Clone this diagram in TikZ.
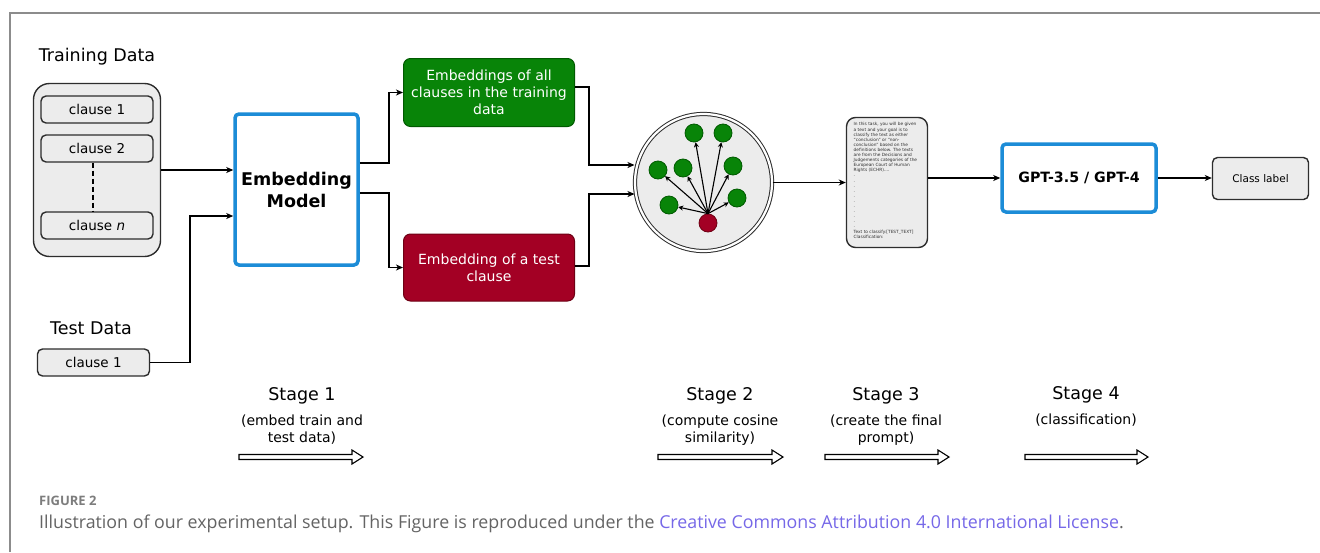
\documentclass[tikz,border=0pt]{standalone}
\usepackage{fontspec}
\setmainfont{DejaVu Sans}
\newfontfamily\capfont{Open Sans}
\usetikzlibrary{arrows.meta}
\definecolor{embblue}{RGB}{28,140,215}
\definecolor{boxgray}{RGB}{236,236,236}
\definecolor{edgedark}{RGB}{45,45,45}
\definecolor{embgreen}{RGB}{8,132,8}
\definecolor{embgreenedge}{RGB}{0,90,0}
\definecolor{embred}{RGB}{163,0,36}
\definecolor{embrededge}{RGB}{110,0,20}
\definecolor{framegray}{RGB}{140,140,140}
\definecolor{capgray}{RGB}{100,100,100}
\definecolor{figgray}{RGB}{125,125,125}
\definecolor{linkviolet}{RGB}{118,104,232}
\newcommand\fatarrow[3]{%
  \draw[fatarr] ({#1},{#3-2.5}) -- ({#2-11},{#3-2.5}) -- ({#2-11},{#3-7}) -- ({#2},{#3})
    -- ({#2-11},{#3+7}) -- ({#2-11},{#3+2.5}) -- ({#1},{#3+2.5}) -- cycle;}
\begin{document}
\begin{tikzpicture}[x=1pt,y=-1pt,
  graybox/.style={draw=edgedark, fill=boxgray, line width=1.4pt, rounded corners=5pt, inner sep=0pt},
  clausebox/.style={graybox, minimum width=112pt, minimum height=27pt, font=\fontsize{13.5}{16}\selectfont},
  bluebox/.style={draw=embblue, fill=white, line width=3.5pt, rounded corners=4pt, inner sep=0pt, align=center},
  conn/.style={draw=black, line width=1.5pt, -{Stealth[length=7pt,width=6pt,inset=2pt]}},
  dotarrow/.style={draw=black, line width=1.1pt, -{Stealth[length=5pt,width=5pt,inset=1.5pt]}},
  gdot/.style={circle, fill=embgreen, draw=embgreenedge, line width=0.8pt, minimum size=18pt, inner sep=0pt},
  rdot/.style={circle, fill=embred, draw=embrededge, line width=0.8pt, minimum size=18pt, inner sep=0pt},
  fatarr/.style={draw=black, fill=white, line width=1.1pt, line join=miter},
  titlefont/.style={font=\fontsize{17.5}{20}\selectfont},
  subfont/.style={font=\fontsize{14}{17}\selectfont, align=center}
]
\useasboundingbox (0,0) rectangle (1320,552);
\fill[white] (0,0) rectangle (1320,552);
\draw[framegray, line width=2pt] (10,552) -- (10,13) -- (1320,13);

% Training data
\node[titlefont] (trainlbl) at (97,57) {Training Data};
\node[graybox, rounded corners=16pt, minimum width=127pt, minimum height=173pt] (train) at (97,170) {};
\node[clausebox] (c1) at (97,109.5) {clause 1};
\node[clausebox] (c2) at (97,148.5) {clause 2};
\node[clausebox] (cn) at (97,225.5) {clause \textit{n}};
\draw[line width=1.4pt, dashed, dash pattern=on 5pt off 3pt] ([xshift=-4pt]c2.south) -- ([xshift=-4pt]cn.north);

% Test data
\node[titlefont] (testlbl) at (91,328) {Test Data};
\node[clausebox] (test) at (93.5,362.5) {clause 1};

% Embedding model
\node[bluebox, minimum width=123pt, minimum height=151pt, font=\fontsize{17.5}{22}\bfseries] (emb) at (296.5,189.5) {Embedding\\Model};
\draw[conn] (train.east) -- (emb.west |- train.east);
\draw[conn] (test.east) -- ++(40,0) |- (emb.west |- 0,216);

% Green / red boxes
\node[draw=embgreenedge, fill=embgreen, text=white, line width=1pt, rounded corners=7pt,
  minimum width=171pt, minimum height=68pt, align=center, font=\fontsize{14}{17}\selectfont] (green) at (489,92.5)
  {Embeddings of all\\clauses in the training\\data};
\node[draw=embrededge, fill=embred, text=white, line width=1pt, rounded corners=7pt,
  minimum width=171pt, minimum height=67pt, align=center, font=\fontsize{14}{17}\selectfont] (red) at (489,267.5)
  {Embedding of a test\\clause};
\draw[conn] (emb.east |- 0,163) -- (389,163) |- (green.west);
\draw[conn] (emb.east |- 0,193) -- (389,193) |- (red.west);

% Similarity circle
\node[circle, draw=edgedark, double=white, double distance=2.2pt, line width=1pt, fill=boxgray,
  minimum size=137pt, inner sep=0pt] (circ) at (703.5,182.5) {};
\draw[conn] (green.east |- 0,87) -- (589,87) |- (circ.west |- 0,165);
\draw[conn] (red.east |- 0,266) -- (589,266) |- (circ.west |- 0,194);
\node[gdot] (g1) at (694,133) {};
\node[gdot] (g2) at (723,133) {};
\node[gdot] (g3) at (658,170) {};
\node[gdot] (g4) at (683,168) {};
\node[gdot] (g5) at (733,166) {};
\node[gdot] (g6) at (669,205) {};
\node[gdot] (g7) at (737,198) {};
\node[rdot] (r) at (708,223) {};
\foreach \g in {g1,g2,g3,g4,g5,g6,g7}{\draw[dotarrow] (r.north) -- (\g);}

% Prompt
\node[graybox, rounded corners=9pt, minimum width=81pt, minimum height=130pt] (prompt) at (887,182.5) {};
\node[anchor=north west, inner sep=0pt, align=left, text=edgedark, font=\fontsize{4.3}{5.1}\selectfont] (ptext) at (853.5,122.5)
  {In this task, you will be given\\a text and your goal is to\\classify the text as either\\``conclusion'' or ``non-\\conclusion'' based on the\\definitions below. The texts\\are from the Decisions and\\Judgements categories of the\\European Court of Human\\Rights (ECHR)....\\.\\.\\.\\.\\.\\.\\.\\.\\.\\.\\.\\Text to classify:[TEST\_TEXT]\\Classification:};
\draw[conn] (circ.east) -- (prompt.west);

% GPT
\node[bluebox, minimum width=154pt, minimum height=68pt, font=\fontsize{14.2}{17}\bfseries] (gpt) at (1079,178) {GPT-3.5 / GPT-4};
\node[graybox, minimum width=96pt, minimum height=42pt, font=\fontsize{10.5}{13}\selectfont] (cls) at (1260.5,178.5) {Class label};
\draw[conn] (prompt.east |- gpt.west) -- (gpt.west);
\draw[conn] (gpt.east) -- (cls.west |- gpt.east);

% Stages
\node[titlefont] (s1) at (302,396) {Stage 1};
\node[subfont] (s1d) at (302,430) {(embed train and\\test data)};
\fatarrow{239}{363}{457}
\node[titlefont] (s2) at (720,396) {Stage 2};
\node[subfont] (s2d) at (720,430) {(compute cosine\\similarity)};
\fatarrow{658}{783}{457}
\node[titlefont] (s3) at (886,396) {Stage 3};
\node[subfont] (s3d) at (886,430) {(create the final\\prompt)};
\fatarrow{825}{949}{457}
\node[titlefont] (s4) at (1086,395) {Stage 4};
\node[subfont] (s4d) at (1086,420) {(classification)};
\fatarrow{1025}{1148}{457}

% Caption
\node[anchor=west, inner sep=0pt, text=figgray, font=\capfont\fontsize{13}{15}\selectfont\bfseries] (figlbl) at (39,501) {FIGURE 2};
\node[anchor=west, inner sep=0pt, text=capgray, font=\capfont\fontsize{17.8}{20}\selectfont] (caption) at (39,524)
  {Illustration of our experimental setup. This Figure is reproduced under the \textcolor{linkviolet}{Creative Commons Attribution 4.0 International License}.};
\end{tikzpicture}
\end{document}
